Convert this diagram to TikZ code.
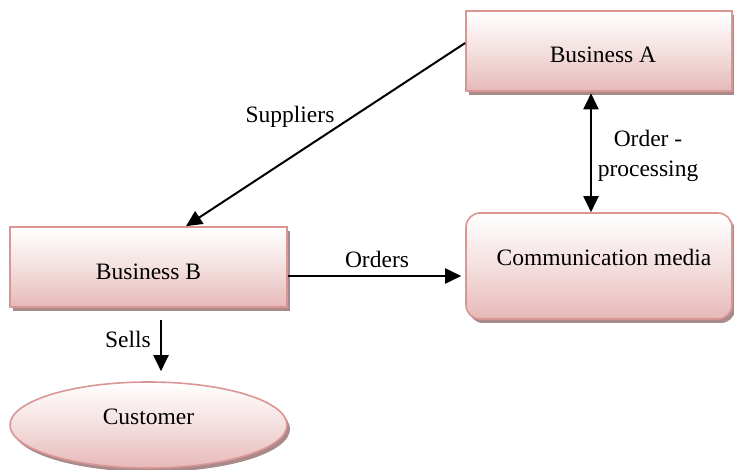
\documentclass[tikz,border=0pt]{standalone}
\usepackage{fontspec}
\setmainfont{Liberation Serif}
\usetikzlibrary{shapes.geometric,shadows,arrows.meta}
\definecolor{pinkfill}{HTML}{E6B9B8}
\definecolor{pinkline}{HTML}{D99694}
\definecolor{shadowcol}{HTML}{A88A8B}
\tikzset{
  boxbase/.style={draw=pinkline, line width=1.6pt, top color=white, bottom color=pinkfill,
    middle color=pinkfill!45!white,
    drop shadow={shadow xshift=3pt, shadow yshift=-4pt, fill=shadowcol, opacity=1},
    inner sep=0pt},
  sqbox/.style={boxbase, rectangle, minimum width=266pt, minimum height=80pt},
  rbox/.style={boxbase, rectangle, rounded corners=14pt, minimum width=266pt, minimum height=106pt},
  ellbox/.style={boxbase, ellipse, minimum width=277pt, minimum height=86pt},
  txt/.style={font=\fontsize{23.5}{30}\selectfont, inner sep=0pt},
  arr/.style={line width=2pt, -{Triangle[length=16pt,width=15pt]}},
  darr/.style={line width=2pt, {Triangle[length=16pt,width=15pt]}-{Triangle[length=16pt,width=15pt]}}
}
\begin{document}
\begin{tikzpicture}[x=1pt,y=-1pt]
\useasboundingbox (0,0) rectangle (734,470);
\node[sqbox] (ba) at (599,51) {};
\node[txt] (bat) at (603,55) {Business A};
\node[sqbox, minimum width=277pt] (bb) at (148.5,267) {};
\node[txt] (bbt) at (148.5,272) {Business B};
\node[rbox] (cm) at (599,266) {};
\node[txt] (cmt) at (604,257) {Communication media};
\node[ellbox] (cu) at (148.5,425) {};
\node[txt] (cut) at (148.5,417) {Customer};
% connectors
\coordinate (s1) at ([yshift=8pt]ba.west);
\coordinate (s2) at ([xshift=37.5pt]bb.north);
\draw[arr] (s1) -- (s2);
\node[txt] (lsup) at (290,117) {Suppliers};
\coordinate (o1) at ([yshift=-9pt]bb.east);
\coordinate (o2) at ([yshift=-9pt, xshift=-4pt]bb.east -| cm.west);
\draw[arr] (o1) -- (o2);
\node[txt] (lord) at (377,259) {Orders};
\coordinate (d1) at ([xshift=-8pt, yshift=-1.5pt]ba.south);
\coordinate (d2) at ([xshift=-8pt]ba.south |- cm.north);
\draw[darr] (d1) -- (d2);
\node[txt, align=center] (lop) at (648,156) {Order -\\processing};
\coordinate (e1) at ([xshift=12.5pt, yshift=-12pt]bb.south);
\coordinate (e2) at ([xshift=12.5pt, yshift=10pt]cu.north);
\draw[arr] (e1) -- (e2);
\node[txt] (lsell) at (128,339) {Sells};
\end{tikzpicture}
\end{document}
